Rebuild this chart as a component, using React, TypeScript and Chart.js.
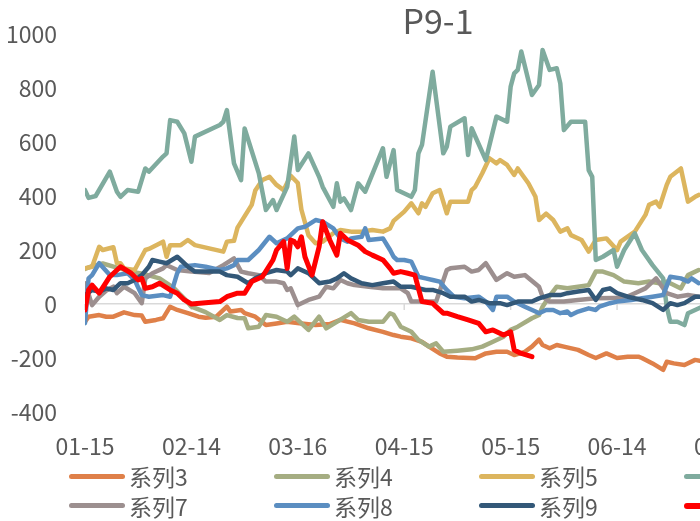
import React, { useEffect, useRef } from 'react';
import { Chart, registerables } from 'chart.js';

Chart.register(...registerables);

const TITLE = 'P9-1';
const FONT = '"Noto Sans CJK SC", "Noto Sans", sans-serif';
const TEXT_COLOR = '#595959';

const seriesNames = ['系列3', '系列4', '系列5', '系列6', '系列7', '系列8', '系列9', '系列10'];
const seriesColors = ['#df8049', '#a5ad82', '#dcb55e', '#7fab9e', '#9c8f8f', '#5b8ec1', '#335878', '#ff0000'];

// x axis: day of year; tick positions and their labels
const xMin = 15;
const xMax = 238;
const xTickDays = [15, 45, 75, 105, 135, 165, 195];
const xTickLabels = ['01-15', '02-14', '03-16', '04-15', '05-15', '06-14', '07-14'];
const yMin = -400;
const yMax = 1000;
const yStep = 200;

// [day of year, value]
const s3 = [[15,-66],[16,-47],[19,-41],[21,-47],[23,-47],[26,-31],[29,-41],[31,-43],[32,-66],[35,-59],[37,-53],[39,-10],[41,-22],[44,-34],[47,-47],[49,-51],[52,-47],[55,-10],[56,-28],[59,-22],[60,-34],[63,-47],[66,-78],[69,-72],[72,-66],[76,-72],[80,-78],[84,-74],[87,-59],[91,-72],[95,-90],[99,-103],[102,-115],[104,-121],[107,-127],[110,-140],[112,-158],[115,-183],[117,-195],[120,-198],[125,-201],[128,-183],[131,-177],[134,-177],[136,-189],[139,-177],[141,-158],[143,-132],[144,-152],[146,-164],[148,-152],[150,-158],[154,-170],[157,-189],[159,-200],[162,-183],[165,-200],[168,-195],[171,-195],[172,-200],[175,-220],[178,-244],[179,-214],[181,-220],[184,-226],[187,-207],[189,-212]];
const s4 = [[15,130],[17,140],[20,150],[24,135],[28,120],[32,110],[36,95],[40,60],[43,20],[45,-10],[49,-30],[53,-59],[55,-41],[58,-52],[60,-53],[61,-90],[64,-84],[66,-41],[69,-47],[72,-66],[74,-47],[78,-96],[81,-47],[83,-90],[86,-66],[90,-34],[92,-59],[95,-66],[99,-66],[101,-34],[102,-40],[104,-84],[107,-103],[109,-133],[112,-158],[114,-146],[116,-177],[120,-173],[124,-168],[127,-158],[130,-140],[133,-121],[135,-96],[137,-84],[141,-53],[143,-41],[144,-10],[146,30],[148,64],[151,58],[154,64],[157,70],[159,120],[161,120],[164,107],[167,83],[171,77],[174,83],[177,77],[179,83],[182,64],[183,58],[185,107],[188,126]];
const s5 = [[15,132],[17,138],[19,212],[20,200],[23,210],[24,151],[25,151],[26,132],[29,126],[32,200],[33,204],[37,231],[38,175],[39,218],[42,218],[44,237],[46,218],[54,194],[55,231],[57,234],[58,283],[62,367],[63,420],[65,459],[67,471],[69,441],[71,422],[73,475],[75,448],[76,350],[78,255],[80,225],[82,231],[85,262],[87,274],[90,268],[93,268],[96,274],[99,268],[101,280],[102,308],[105,342],[107,373],[109,336],[110,373],[111,360],[113,410],[115,422],[117,336],[118,379],[123,379],[124,422],[125,434],[127,484],[129,540],[131,521],[132,533],[134,515],[136,478],[137,502],[140,447],[142,397],[143,311],[145,335],[147,311],[149,268],[151,280],[152,255],[155,237],[157,194],[159,237],[162,243],[165,200],[166,231],[170,268],[173,330],[174,367],[176,379],[177,360],[179,441],[180,471],[183,502],[185,379],[187,397],[188,404]];
const s6 = [[15,422],[16,393],[18,400],[22,490],[24,416],[25,397],[27,422],[30,416],[32,502],[33,490],[37,546],[38,558],[39,681],[41,675],[43,632],[45,527],[46,620],[53,663],[54,675],[55,718],[57,521],[59,459],[60,650],[64,484],[66,348],[68,385],[69,348],[72,434],[74,620],[75,496],[78,558],[81,471],[82,434],[85,360],[86,447],[87,379],[88,391],[90,348],[92,447],[94,416],[99,577],[100,471],[102,570],[103,422],[107,397],[108,422],[109,558],[110,589],[113,860],[116,558],[117,583],[118,657],[122,688],[123,552],[124,651],[128,533],[131,694],[134,675],[135,805],[136,854],[137,867],[138,935],[141,774],[143,811],[144,941],[146,867],[148,873],[149,817],[150,644],[152,675],[156,675],[157,496],[158,471],[159,163],[161,175],[164,200],[165,138],[167,200],[170,262],[172,200],[175,144],[178,95],[179,-10],[180,-66],[182,-66],[184,-78],[185,-34],[187,-22],[189,-10]];
const s7 = [[15,77],[17,-4],[19,27],[21,50],[23,64],[24,40],[26,64],[29,40],[31,3],[32,95],[34,114],[37,132],[38,144],[39,138],[41,126],[45,120],[50,115],[54,144],[57,169],[59,120],[61,114],[64,107],[66,83],[69,83],[71,77],[72,52],[73,58],[75,-4],[78,15],[81,27],[83,64],[85,58],[87,89],[89,77],[91,70],[95,64],[99,58],[104,58],[106,40],[107,9],[114,9],[117,126],[118,132],[122,138],[124,120],[126,126],[128,151],[131,89],[134,114],[136,101],[139,107],[143,64],[144,27],[146,9],[150,9],[154,15],[159,21],[164,22],[167,22],[170,40],[173,58],[176,95],[177,77],[179,40],[182,27],[185,33],[188,27]];
const s8 = [[15,-71],[16,95],[17,107],[19,151],[22,107],[24,107],[27,114],[29,89],[31,33],[33,27],[37,33],[39,27],[41,114],[42,138],[46,144],[49,138],[53,126],[55,132],[57,144],[58,163],[61,163],[64,200],[67,249],[69,225],[72,243],[75,280],[77,286],[80,311],[82,305],[85,280],[87,243],[89,231],[90,243],[93,249],[94,280],[95,237],[99,243],[101,200],[102,175],[103,163],[105,163],[107,157],[109,101],[111,95],[113,89],[115,83],[117,52],[119,27],[122,21],[126,27],[128,9],[130,-22],[131,27],[134,27],[136,9],[139,-10],[142,-28],[143,-34],[145,-22],[147,-22],[149,-34],[151,-28],[152,-41],[154,-28],[157,-16],[159,-22],[160,-10],[163,3],[165,9],[169,15],[172,21],[175,27],[178,33],[180,101],[183,95],[185,83],[186,95],[188,77]];
const s9 = [[15,33],[17,52],[19,46],[21,58],[23,52],[25,77],[27,77],[29,89],[31,107],[33,138],[34,163],[36,157],[38,151],[41,175],[42,163],[44,138],[46,120],[49,120],[53,120],[55,107],[58,101],[61,77],[63,95],[66,114],[69,126],[72,120],[73,107],[75,132],[78,114],[81,77],[84,83],[86,95],[88,114],[90,95],[93,77],[96,70],[99,77],[102,83],[104,64],[107,64],[111,52],[113,52],[116,40],[118,27],[122,27],[124,9],[126,15],[129,3],[132,3],[134,-4],[137,9],[141,9],[143,21],[146,33],[149,33],[151,40],[154,46],[157,52],[159,15],[161,52],[163,58],[165,40],[168,27],[172,15],[175,3],[178,-22],[180,3],[182,-4],[184,3],[187,27],[189,27]];
const s10 = [[15,-22],[16,52],[17,70],[19,40],[22,101],[25,138],[28,114],[30,89],[31,95],[32,58],[34,64],[36,77],[39,52],[41,40],[43,15],[45,0],[49,5],[53,9],[55,27],[58,40],[60,40],[62,83],[65,101],[68,163],[69,200],[71,231],[72,132],[73,237],[74,231],[75,212],[76,249],[77,175],[79,107],[81,212],[82,305],[84,237],[86,181],[87,262],[89,237],[92,218],[94,194],[96,181],[99,163],[101,132],[102,114],[104,120],[106,114],[108,107],[110,9],[113,3],[114,-10],[116,-34],[117,-34],[120,-47],[123,-59],[126,-72],[128,-103],[130,-96],[133,-115],[135,-103],[136,-170],[138,-183],[141,-195]];

const seriesData = [s3, s4, s5, s6, s7, s8, s9, s10];
const lineWidths = [4.5, 4.5, 4.5, 4.5, 4.5, 4.5, 4.5, 5];

const CANVAS_W = 876;
const CANVAS_H = 521;

const zeroTicks = {
  id: 'zeroTicks',
  beforeDatasetsDraw(chart: any) {
    const { ctx, scales } = chart;
    const x = scales.x;
    const y = scales.y;
    const y0 = y.getPixelForValue(0);
    ctx.save();
    ctx.strokeStyle = '#d9d9d9';
    ctx.lineWidth = 1.5;
    x.ticks.forEach((t: any) => {
      const px = x.getPixelForValue(t.value);
      ctx.beginPath();
      ctx.moveTo(px, y0);
      ctx.lineTo(px, y0 + 6);
      ctx.stroke();
    });
    ctx.restore();
  },
};

export default function App() {
  const canvasRef = useRef<HTMLCanvasElement | null>(null);

  useEffect(() => {
    if (!canvasRef.current) return;
    const chart = new Chart(canvasRef.current, {
      type: 'line',
      data: {
        datasets: seriesData.map((pairs, i) => ({
          label: seriesNames[i],
          data: pairs.map(([d, v]) => ({ x: d, y: v })),
          borderColor: seriesColors[i],
          backgroundColor: seriesColors[i],
          borderWidth: lineWidths[i],
          pointRadius: 0,
          tension: 0,
          fill: false,
          order: seriesNames.length - 1 - i,
          borderJoinStyle: 'round',
          borderCapStyle: 'round',
        })),
      },
      options: {
        animation: false,
        responsive: false,
        devicePixelRatio: 1,
        layout: { padding: { left: 0, right: 0, top: 0, bottom: 64 } },
        plugins: {
          legend: { display: false },
          tooltip: { enabled: false },
          title: {
            display: true,
            text: TITLE,
            color: TEXT_COLOR,
            font: { family: FONT, size: 34, weight: 'normal', lineHeight: '26px' },
            padding: { top: 8, bottom: 0 },
          },
        },
        scales: {
          x: {
            type: 'linear',
            min: xMin,
            max: xMax,
            border: { display: false },
            grid: { display: false, drawTicks: false },
            afterBuildTicks: (s: any) => {
              s.ticks = xTickDays.map((v) => ({ value: v }));
            },
            ticks: {
              autoSkip: false,
              maxRotation: 0,
              color: TEXT_COLOR,
              font: { family: FONT, size: 23 },
              padding: 20,
              callback: (v: any) => {
                const idx = xTickDays.indexOf(Number(v));
                return idx >= 0 ? xTickLabels[idx] : '';
              },
            },
            afterFit: (s: any) => { s.height = 45; },
          },
          y: {
            min: yMin,
            max: yMax,
            border: { display: false },
            grid: {
              drawTicks: true,
              tickLength: 28,
              tickColor: 'rgba(0,0,0,0)',
              lineWidth: 1.5,
              color: (c: any) => (c.tick && c.tick.value === 0 ? '#d9d9d9' : 'rgba(0,0,0,0)'),
            },
            ticks: {
              stepSize: yStep,
              color: TEXT_COLOR,
              font: { family: FONT, size: 23 },
              padding: 0,
              callback: (v: any) => String(v),
            },
            afterFit: (s: any) => { s.width = 85; },
          },
        },
      },
      plugins: [zeroTicks],
    } as any);
    return () => chart.destroy();
  }, []);

  return (
    <div style={{ position: 'absolute', left: 0, top: 0, width: 700, height: 521, overflow: 'hidden', background: '#fff' }}>
      <div style={{ position: 'absolute', left: 0, top: 0, width: CANVAS_W, height: CANVAS_H }}>
        <canvas ref={canvasRef} width={CANVAS_W} height={CANVAS_H} style={{ display: 'block' }} />
        {seriesNames.map((name, i) => {
          const col = i % 4;
          const row = Math.floor(i / 4);
          return (
            <div
              key={name}
              style={{
                position: 'absolute',
                left: 69 + col * 205,
                top: 461 + row * 29.5,
                height: 30,
                display: 'flex',
                alignItems: 'center',
                whiteSpace: 'nowrap',
              }}
            >
              <div style={{ width: 56, height: i === 7 ? 6 : 5, borderRadius: 3, background: seriesColors[i] }} />
              <span style={{ marginLeft: 4, fontFamily: FONT, fontSize: 23, lineHeight: '30px', color: TEXT_COLOR }}>{name}</span>
            </div>
          );
        })}
      </div>
    </div>
  );
}
